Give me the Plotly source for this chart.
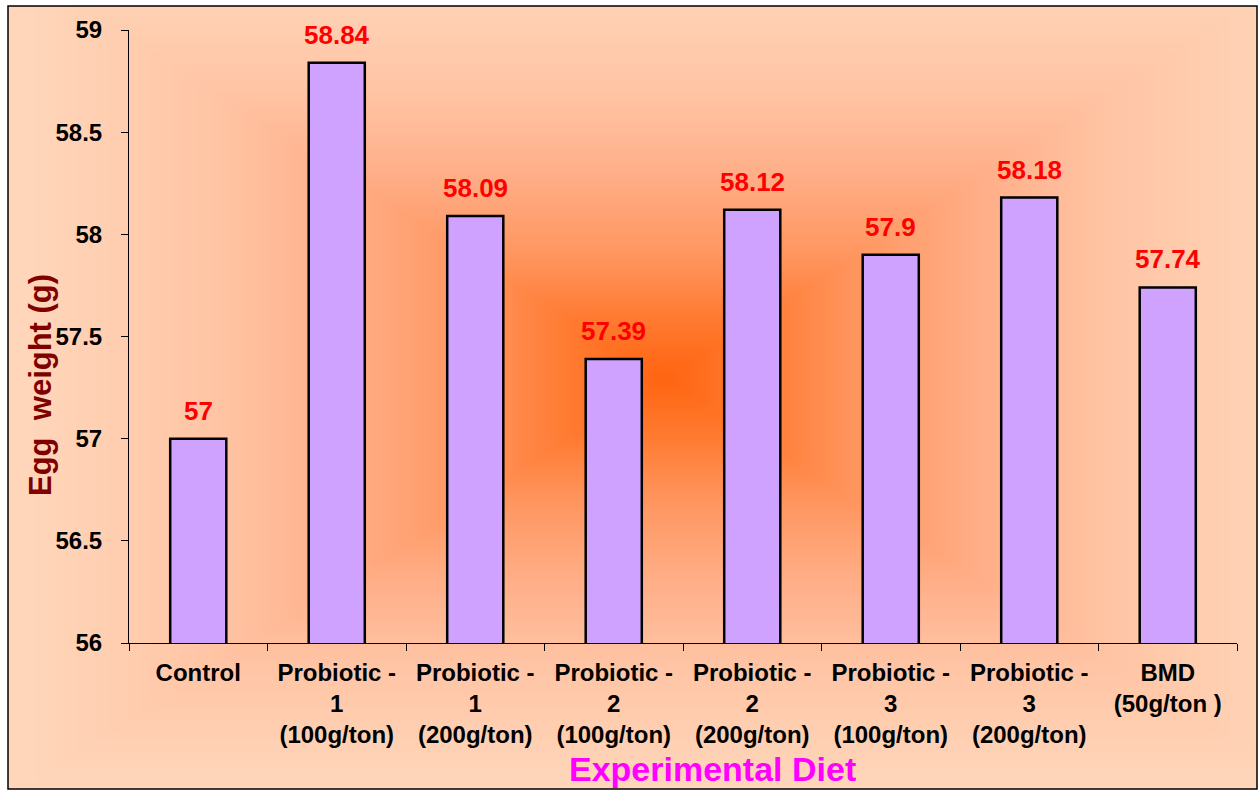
import numpy as np
import plotly.graph_objects as go

categories = ["Control", "Probiotic -<br>1<br>(100g/ton)", "Probiotic -<br>1<br>(200g/ton)",
              "Probiotic -<br>2<br>(100g/ton)", "Probiotic -<br>2<br>(200g/ton)",
              "Probiotic -<br>3<br>(100g/ton)", "Probiotic -<br>3<br>(200g/ton)",
              "BMD<br>(50g/ton )"]
egg_weight = [57, 58.84, 58.09, 57.39, 58.12, 57.9, 58.18, 57.74]
value_labels = ["57", "58.84", "58.09", "57.39", "58.12", "57.9", "58.18", "57.74"]
y_ticks = [56, 56.5, 57, 57.5, 58, 58.5, 59]
y_tick_text = ["56", "56.5", "57", "57.5", "58", "58.5", "59"]

W, H = 1259, 790

# background rectangular "from centre" gradient (styling only)
gx = np.linspace(0, W, 127)
gy = np.linspace(0, H, 80)
cx, cy, hw, hh = 660, 375, 640, 410
XX, YY = np.meshgrid(gx, gy)
Z = np.maximum(np.abs(XX - cx) / hw, np.abs(YY - cy) / hh)
Z = np.clip(Z, 0, 1)

fig = go.Figure()
fig.add_trace(go.Heatmap(
    x=gx, y=gy, z=Z, zmin=0, zmax=1, zsmooth="best", showscale=False, hoverinfo="skip",
    colorscale=[[0, "#FF6410"], [0.15, "#FF7B32"], [0.3, "#FF955E"], [0.5, "#FFAE88"],
                [0.7, "#FFC4A4"], [1, "#FFD6BA"]],
    xaxis="x", yaxis="y"))

fig.add_trace(go.Bar(
    x=categories, y=egg_weight, xaxis="x2", yaxis="y2",
    marker=dict(color="#CFA2FF", line=dict(color="black", width=2.5)),
    hoverinfo="x+y"))

for c, v, t in zip(categories, egg_weight, value_labels):
    fig.add_annotation(x=c, y=v, xref="x2", yref="y2", text=t, showarrow=False,
                       yanchor="bottom", yshift=11,
                       font=dict(family="Arial", size=26, color="#FF0000", weight="bold"))

fig.add_annotation(x=41 / W, y=1 - 385 / H, xref="paper", yref="paper", text="Egg  weight (g)",
                   textangle=-90, showarrow=False, xanchor="center", yanchor="middle",
                   font=dict(family="Arial", size=31, color="#800000", weight="bold"))
fig.add_annotation(x=712 / W, y=1 - 769 / H, xref="paper", yref="paper", text="Experimental Diet",
                   showarrow=False, xanchor="center", yanchor="middle",
                   font=dict(family="Arial", size=34, color="#FF00FF", weight="bold"))

fig.add_shape(type="rect", xref="paper", yref="paper", x0=8 / W, x1=1257 / W,
              y0=1 / H, y1=1 - 6 / H, line=dict(color="black", width=1.5), layer="above")

fig.update_layout(
    width=W, height=H, margin=dict(l=0, r=0, t=0, b=0, autoexpand=False),
    paper_bgcolor="white", plot_bgcolor="rgba(0,0,0,0)", showlegend=False,
    bargap=0.595,
    xaxis=dict(domain=[8 / W, 1257 / W], range=[0, W], visible=False, fixedrange=True,
               automargin=False),
    yaxis=dict(domain=[1 / H, 1 - 6 / H], range=[H, 0], visible=False, fixedrange=True,
               automargin=False),
    xaxis2=dict(domain=[129 / W, 1237 / W], anchor="y2", type="category", automargin=False,
                showline=True, linecolor="black", linewidth=1, ticks="outside", ticklen=7,
                tickcolor="black", tickson="boundaries", showgrid=False,
                tickfont=dict(family="Arial", size=24, color="black", weight="bold"),
                ticklabelstandoff=8),
    yaxis2=dict(domain=[1 - 643 / H, 1 - 30 / H], anchor="x2", range=[56, 59], automargin=False,
                tickvals=y_ticks, ticktext=y_tick_text,
                showline=True, linecolor="black", linewidth=1, ticks="outside", ticklen=7,
                tickcolor="black", showgrid=False, zeroline=False,
                tickfont=dict(family="Arial", size=24, color="black", weight="bold"),
                ticklabelstandoff=14),
)

fig.write_html("out.html")
